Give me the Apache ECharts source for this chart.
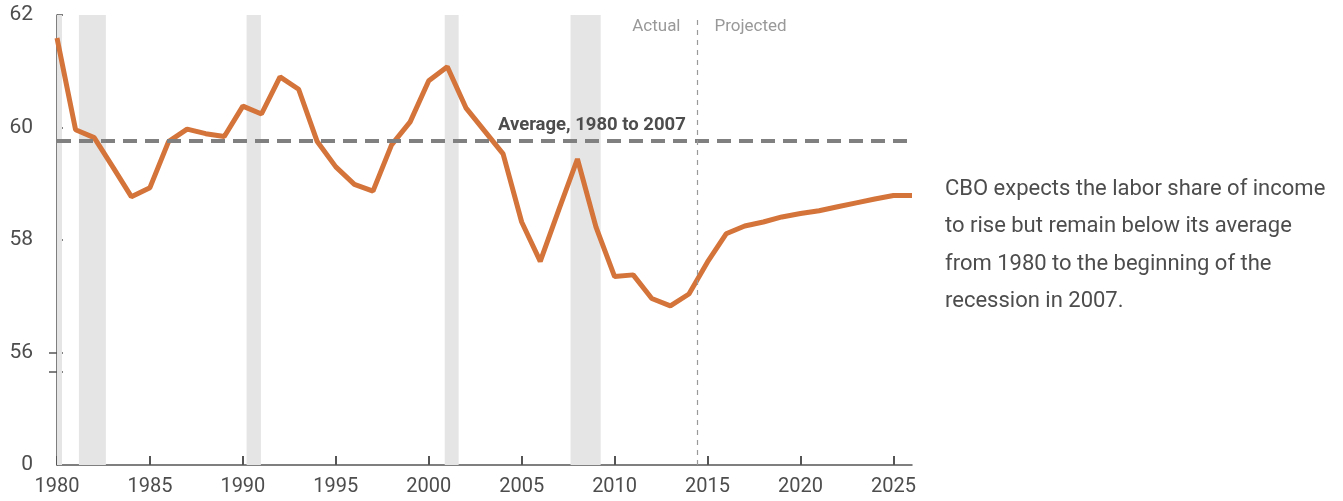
<!DOCTYPE html>
<html>
<head>
<meta charset="utf-8">
<script src="https://cdn.jsdelivr.net/npm/echarts@6/dist/echarts.min.js"></script>
<style>
  html, body { margin: 0; padding: 0; background: #fff; }
  #labor { width: 1343px; height: 501px; }
</style>
</head>
<body>
<div id="labor"></div>
<script>
// labor share of income, percent (actual through 2014, projected after)
const years = [1980, 1981, 1982, 1983, 1984, 1985, 1986, 1987, 1988, 1989,
  1990, 1991, 1992, 1993, 1994, 1995, 1996, 1997, 1998, 1999,
  2000, 2001, 2002, 2003, 2004, 2005, 2006, 2007, 2008, 2009,
  2010, 2011, 2012, 2013, 2014, 2015, 2016, 2017, 2018, 2019,
  2020, 2021, 2022, 2023, 2024, 2025, 2026];
const laborShare = [61.59, 59.96, 59.82, 59.30, 58.77, 58.93, 59.75, 59.97, 59.89, 59.84,
  60.38, 60.24, 60.90, 60.68, 59.75, 59.30, 58.99, 58.87, 59.69, 60.10,
  60.83, 61.08, 60.35, 59.94, 59.53, 58.32, 57.62, 58.54, 59.44, 58.23,
  57.35, 57.38, 56.96, 56.83, 57.04, 57.61, 58.11, 58.25, 58.32, 58.41,
  58.47, 58.52, 58.59, 58.66, 58.73, 58.79, 58.79];
// recession periods (start, end)
const recessions = [[1980.0, 1980.27], [1981.18, 1982.63], [1990.2, 1990.97],
  [2000.86, 2001.61], [2007.63, 2009.25]];
const average = 59.76;
const averageLabel = "Average, 1980 to 2007";
const projectionStart = 2014.46;
const yTicks = [55.66, 56, 58, 60, 62];   // 54 stands for 0 below the axis break
const breakTicks = [55.66, 56];
const note = ["CBO expects the labor share of income",
  "to rise but remain below its average",
  "from 1980 to the beginning of the",
  "recession in 2007."];

const font = "Roboto";
const chart = echarts.init(document.getElementById("labor"));

const option = {
  animation: false,
  textStyle: { fontFamily: font },
  grid: { left: 57, right: 431, top: 15, bottom: 36 },
  xAxis: {
    type: "value",
    min: 1980,
    max: 2026,
    interval: 5,
    axisLine: { show: true, onZero: false, lineStyle: { color: "#555", width: 1.5 } },
    axisTick: { show: true, inside: true, length: 9,
      lineStyle: { color: "#555", width: 2 } },
    splitLine: { show: false },
    axisLabel: { color: "#4d4d4d", fontSize: 20, margin: 12, showMaxLabel: false,
      fontFamily: font, formatter: v => String(v) }
  },
  yAxis: [{
    type: "value",
    min: 54,
    max: 62,
    interval: 2,
    splitLine: { show: false },
    axisLine: { show: true, lineStyle: { color: "#555", width: 1.5 } },
    axisTick: { show: true, inside: true, length: 6, customValues: yTicks,
      lineStyle: { color: "#555", width: 1.5 } },
    axisLabel: { color: "#4d4d4d", fontSize: 21, margin: 24, fontFamily: font,
      formatter: v => (v === 54 ? "0" : String(v)) }
  }, {
    type: "value",
    position: "left",
    min: 54,
    max: 62,
    interval: 2,
    splitLine: { show: false },
    axisLine: { show: false },
    axisLabel: { show: false },
    axisTick: { show: true, inside: false, length: 8, customValues: breakTicks,
      lineStyle: { color: "#555", width: 1.5 } }
  }],
  series: [{
    type: "line",
    data: years.map((y, i) => [y, laborShare[i]]),
    symbol: "none",
    lineStyle: { color: "#d4733a", width: 5 },
    z: 3,
    markArea: {
      silent: true,
      itemStyle: { color: "#e5e5e5" },
      data: recessions.map(r => [{ xAxis: r[0] }, { xAxis: r[1] }])
    },
    markLine: {
      silent: true,
      symbol: "none",
      data: [
        { yAxis: average, lineStyle: { color: "#808080", width: 4, type: [14, 8] },
          label: { show: false } },
        { xAxis: projectionStart, lineStyle: { color: "#999", width: 1.2, type: [5, 5] },
          label: { show: false } }
      ]
    },
    markPoint: {
      silent: true,
      symbol: "circle",
      symbolSize: 0,
      data: [
        { coord: [2013.83, average],
          label: { show: true, position: "left", distance: 0, offset: [0, -16],
            formatter: averageLabel, color: "#4d4d4d", fontSize: 18.5, fontWeight: "bold",
            fontFamily: font } },
        { coord: [projectionStart, 62],
          label: { show: true, position: "left", distance: 17, offset: [0, 12],
            formatter: "Actual", color: "#999", fontSize: 17, fontFamily: font } },
        { coord: [projectionStart, 62],
          label: { show: true, position: "right", distance: 17, offset: [0, 12],
            formatter: "Projected", color: "#999", fontSize: 17, fontFamily: font } }
      ]
    }
  }],
  graphic: [{
    type: "text",
    left: 945,
    top: 171,
    style: {
      text: note.join("\n"),
      fill: "#4d4d4d",
      font: "22px " + font,
      lineHeight: 37.3
    }
  }]
};

chart.setOption(option);
</script>
</body>
</html>
